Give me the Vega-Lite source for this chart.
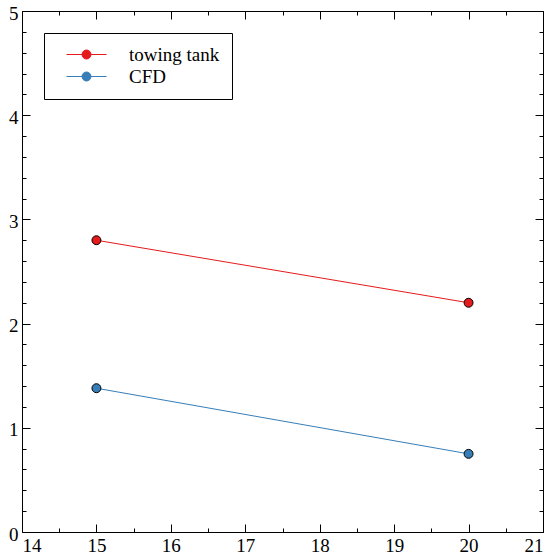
{
  "$schema": "https://vega.github.io/schema/vega-lite/v6.json",
  "width": 521,
  "height": 521,
  "autosize": {"type": "none"},
  "padding": {"left": 22, "top": 11, "right": 8, "bottom": 26},
  "config": {
    "font": "Liberation Serif",
    "view": {"stroke": "black", "strokeWidth": 1},
    "axis": {"grid": false, "domain": false, "tickColor": "black", "tickWidth": 1, "labelFont": "Liberation Serif", "labelFontSize": 19, "labelColor": "black", "title": null},
    "legend": {"labelFont": "Liberation Serif", "labelFontSize": 19, "labelColor": "black"}
  },
  "data": {"values": [
    {"series": "towing tank", "x": 15, "y": 2.8},
    {"series": "towing tank", "x": 20, "y": 2.2},
    {"series": "CFD", "x": 15, "y": 1.38},
    {"series": "CFD", "x": 20, "y": 0.75}
  ]},
  "resolve": {"axis": {"x": "independent", "y": "independent"}},
  "layer": [
    {
      "mark": {"type": "line", "strokeWidth": 1},
      "encoding": {
        "x": {"field": "x", "type": "quantitative", "scale": {"domain": [14, 21], "nice": false, "zero": false},
          "axis": {"orient": "bottom", "values": [14, 15, 16, 17, 18, 19, 20, 21], "tickSize": -8, "labelPadding": 12, "labelBaseline": "top"}},
        "y": {"field": "y", "type": "quantitative", "scale": {"domain": [0, 5], "nice": false},
          "axis": {"orient": "left", "values": [0, 1, 2, 3, 4, 5], "tickSize": -8, "labelPadding": 12, "labelOffset": 2}},
        "color": {"field": "series", "type": "nominal",
          "scale": {"domain": ["towing tank", "CFD"], "range": ["#e41a1c", "#377eb8"]},
          "legend": {"orient": "none", "legendX": 22, "legendY": 22, "title": null, "strokeColor": "black", "fillColor": "white", "padding": 12,
            "symbolType": "M-4,0H-0.9M0.9,0H4M-0.9,0A0.9,0.9,0,1,1,0.9,0A0.9,0.9,0,1,1,-0.9,0Z",
            "symbolSize": 100, "symbolStrokeWidth": 1, "symbolOffset": 21, "labelOffset": 33, "rowPadding": 2,
            "encode": {"symbols": {"update": {"fill": {"scale": "color", "field": "value"}, "stroke": {"scale": "color", "field": "value"}, "opacity": {"value": 1}}}}}}
      }
    },
    {
      "mark": {"type": "point", "filled": true, "size": 80, "stroke": "black", "strokeWidth": 1, "opacity": 1},
      "encoding": {
        "x": {"field": "x", "type": "quantitative",
          "axis": {"orient": "bottom", "values": [14.5, 15.5, 16.5, 17.5, 18.5, 19.5, 20.5], "tickSize": -4, "labels": false}},
        "y": {"field": "y", "type": "quantitative",
          "axis": {"orient": "left", "values": [0.2, 0.4, 0.6, 0.8, 1.2, 1.4, 1.6, 1.8, 2.2, 2.4, 2.6, 2.8, 3.2, 3.4, 3.6, 3.8, 4.2, 4.4, 4.6, 4.8], "tickSize": -4, "labels": false}},
        "color": {"field": "series", "type": "nominal"}
      }
    },
    {
      "mark": {"type": "point", "opacity": 0},
      "encoding": {
        "x": {"field": "x", "type": "quantitative",
          "axis": {"orient": "top", "values": [14, 15, 16, 17, 18, 19, 20, 21], "tickSize": -8, "labels": false}},
        "y": {"field": "y", "type": "quantitative",
          "axis": {"orient": "right", "values": [0, 1, 2, 3, 4, 5], "tickSize": -8, "labels": false}}
      }
    },
    {
      "mark": {"type": "point", "opacity": 0},
      "encoding": {
        "x": {"field": "x", "type": "quantitative",
          "axis": {"orient": "top", "values": [14.5, 15.5, 16.5, 17.5, 18.5, 19.5, 20.5], "tickSize": -4, "labels": false}},
        "y": {"field": "y", "type": "quantitative",
          "axis": {"orient": "right", "values": [0.2, 0.4, 0.6, 0.8, 1.2, 1.4, 1.6, 1.8, 2.2, 2.4, 2.6, 2.8, 3.2, 3.4, 3.6, 3.8, 4.2, 4.4, 4.6, 4.8], "tickSize": -4, "labels": false}}
      }
    }
  ]
}
